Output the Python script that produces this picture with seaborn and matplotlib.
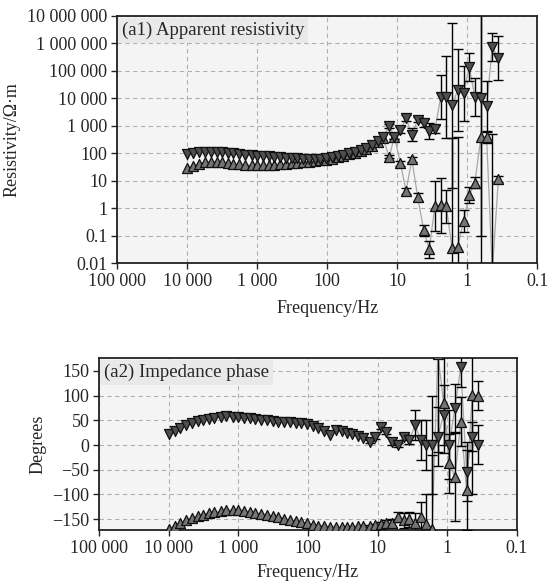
import numpy as np
import pandas as pd
import matplotlib
matplotlib.use("Agg")
import matplotlib.pyplot as plt
import seaborn as sns

# frequencies (Hz), shared by both modes
freq = [10000, 8200, 6800, 5600, 4600, 3800, 3200, 2600, 2200, 1800,
        1500, 1200, 1000, 830, 690, 570, 470, 390, 320, 270,
        220, 180, 150, 125, 105, 86, 71, 59, 49, 40,
        33, 28, 23, 19, 16, 13, 11, 9.0, 7.5, 6.2,
        5.1, 4.2, 3.5, 2.9, 2.4, 2.0, 1.65, 1.37, 1.13, 0.94,
        0.78, 0.64, 0.53, 0.44, 0.36]

# apparent resistivity, down-triangle mode
rho_dn = [95, 100, 110, 115, 115, 112, 110, 105, 100, 95,
          90, 86, 82, 80, 78, 75, 72, 70, 68, 65,
          62, 60, 60, 62, 66, 72, 80, 90, 100, 115,
          135, 160, 200, 280, 400,
          980, 400, 690, 1900, 480, 1660, 1230, 650, 740, 11000,
          11000, 5600, 20000, 15000, 140000, 11000, 10000, 5200, 740000, 280000]
# apparent resistivity, up-triangle mode
rho_up = [28, 35, 42, 48, 50, 50, 48, 45, 42, 40,
          38, 37, 36, 36, 37, 38, 40, 42, 44, 46,
          48, 50, 52, 55, 58, 64, 72, 82, 92, 105,
          122, 145, 180, 250, 350,
          74, 400, 43, 4.2, 60, 2.5, 0.16, 0.032, 1.2, 1.3,
          1.2, 0.035, 0.04, 0.35, 3.0, 8.5, 380, 380, 0.005, 11.5]

# error half-widths (decades) for the last 20 frequencies
tail = 35
rho_dn_err = [0.08, 0.1, 0.1, 0.1, 0.25, 0.1, 0.15, 0.3, 0.15, 0.8,
              1.5, 3.0, 1.5, 1.0, 0.5, 0.7, 5.0, 0.9, 0.5, 0.8]
rho_up_err = [0.05, 0.1, 0.1, 0.1, 0.1, 0.15, 0.2, 0.3, 0.9, 1.0,
              0.6, 4.0, 4.0, 0.4, 0.3, 0.2, 5.0, 0.2, 5.0, 0.1]

# impedance phase (degrees)
phase_dn = [22, 28, 35, 40, 44, 48, 51, 53, 55, 57,
            58, 57, 56, 55, 54, 52, 51, 50, 49, 47,
            46, 46, 45, 44, 42, 38, 35, 28, 20, 30,
            28, 25, 23, 18, 14,
            7, 17, 37, 27, 7, 0, 17, 10, 40, 10,
            0, 0, 17, 61, 1, 74, 158, -54, 17, 1]
phase_up = [-170, -163, -157, -152, -148, -144, -141, -138, -136, -134,
            -132, -131, -132, -134, -136, -138, -140, -142, -144, -146,
            -149, -152, -154, -156, -158, -161, -163, -164, -165, -165,
            -166, -165, -165, -164, -164,
            -163, -162, -160, -157, -158, -145, -152, -150, -158, -145,
            -160, -170, 185, 84, -37, -64, 47, -91, 101, 100]
phase_dn_err = [3, 5, 5, 5, 8, 5, 6, 8, 30, 40,
                50, 100, 60, 60, 70, 50, 40, 60, 30, 40]
phase_up_err = [2, 3, 5, 5, 8, 10, 15, 15, 20, 30,
                60, 150, 200, 100, 60, 90, 50, 80, 200, 30]

sns.set_theme(style="ticks")
plt.rcParams["font.family"] = ["Liberation Serif", "DejaVu Serif"]
plt.rcParams["axes.unicode_minus"] = True

df = pd.DataFrame({"freq": freq, "rho_dn": rho_dn, "rho_up": rho_up,
                   "ph_dn": phase_dn, "ph_up": phase_up})

fig = plt.figure(figsize=(5.5, 5.85), dpi=100)
ax1 = fig.add_axes([0.213, 0.550, 0.764, 0.423])
ax2 = fig.add_axes([0.180, 0.094, 0.760, 0.294])

fs = 13
grid_kw = dict(color="#b0b0b0", linestyle=(0, (4, 3)), linewidth=0.8)


def draw_series(ax, y, err, marker, face, log):
    sns.lineplot(data=df, x="freq", y=y, ax=ax, sort=False, color="#a8a8a8",
                 linewidth=0.9, zorder=2, estimator=None)
    x_t = np.array(freq[tail:])
    y_t = np.array(df[y].values[tail:], dtype=float)
    e = np.array(err, dtype=float)
    if log:
        yerr = [y_t - y_t / 10 ** e, y_t * 10 ** e - y_t]
    else:
        yerr = e
    ax.errorbar(x_t, y_t, yerr=yerr, fmt="none", ecolor="black",
                elinewidth=1.0, capsize=3.5, capthick=1.0, zorder=3)
    sns.scatterplot(data=df, x="freq", y=y, ax=ax, marker=marker, s=52,
                    color=face, edgecolor="#111111", linewidth=0.9, zorder=4)


for ax in (ax1, ax2):
    ax.set_facecolor("#f4f4f4")
    ax.set_xscale("log")

ax1.set_yscale("log")

draw_series(ax1, "rho_up", rho_up_err, "^", "#747474", True)
draw_series(ax1, "rho_dn", rho_dn_err, "v", "#4e4e4e", True)
draw_series(ax2, "ph_up", phase_up_err, "^", "#747474", False)
draw_series(ax2, "ph_dn", phase_dn_err, "v", "#4e4e4e", False)

x_ticks = [1e5, 1e4, 1e3, 1e2, 1e1, 1, 0.1]
x_labels = ["100 000", "10 000", "1 000", "100", "10", "1", "0.1"]
y1_ticks = [1e7, 1e6, 1e5, 1e4, 1e3, 1e2, 10, 1, 0.1, 0.01]
y1_labels = ["10 000 000", "1 000 000", "100 000", "10 000", "1 000",
             "100", "10", "1", "0.1", "0.01"]
y2_ticks = [150, 100, 50, 0, -50, -100, -150]
y2_labels = ["150", "100", "50", "0", "\u221250", "\u2212100", "\u2212150"]

for ax in (ax1, ax2):
    ax.set_xlim(1e5, 0.1)
    ax.set_xticks(x_ticks)
    ax.set_xticklabels(x_labels, fontsize=fs)
    ax.minorticks_off()
    ax.grid(True, **grid_kw)
    ax.tick_params(direction="out", length=4, width=1, pad=3)
    for s in ax.spines.values():
        s.set_linewidth(1.3)
        s.set_color("#222222")

ax1.set_xlabel("Frequency/Hz", fontsize=fs, labelpad=7)
ax2.set_xlabel("Frequency/Hz", fontsize=fs, labelpad=5)

ax1.set_ylim(0.01, 1e7)
ax1.set_yticks(y1_ticks)
ax1.set_yticklabels(y1_labels, fontsize=fs)
ax1.minorticks_off()
ax1.set_ylabel("Resistivity/\u03a9\u00b7m", fontsize=fs, labelpad=5)

ax2.set_ylim(-172, 176)
ax2.set_yticks(y2_ticks)
ax2.set_yticklabels(y2_labels, fontsize=fs)
ax2.set_ylabel("Degrees", fontsize=fs, labelpad=4)

box = dict(boxstyle="square,pad=0.2", fc="#e9e9e9", ec="none")
ax1.text(0.012, 0.975, "(a1) Apparent resistivity", transform=ax1.transAxes,
         ha="left", va="top", fontsize=13.5, bbox=box, zorder=6)
ax2.text(0.012, 0.965, "(a2) Impedance phase", transform=ax2.transAxes,
         ha="left", va="top", fontsize=13.5, bbox=box, zorder=6)

fig.savefig("out.png", dpi=100)
